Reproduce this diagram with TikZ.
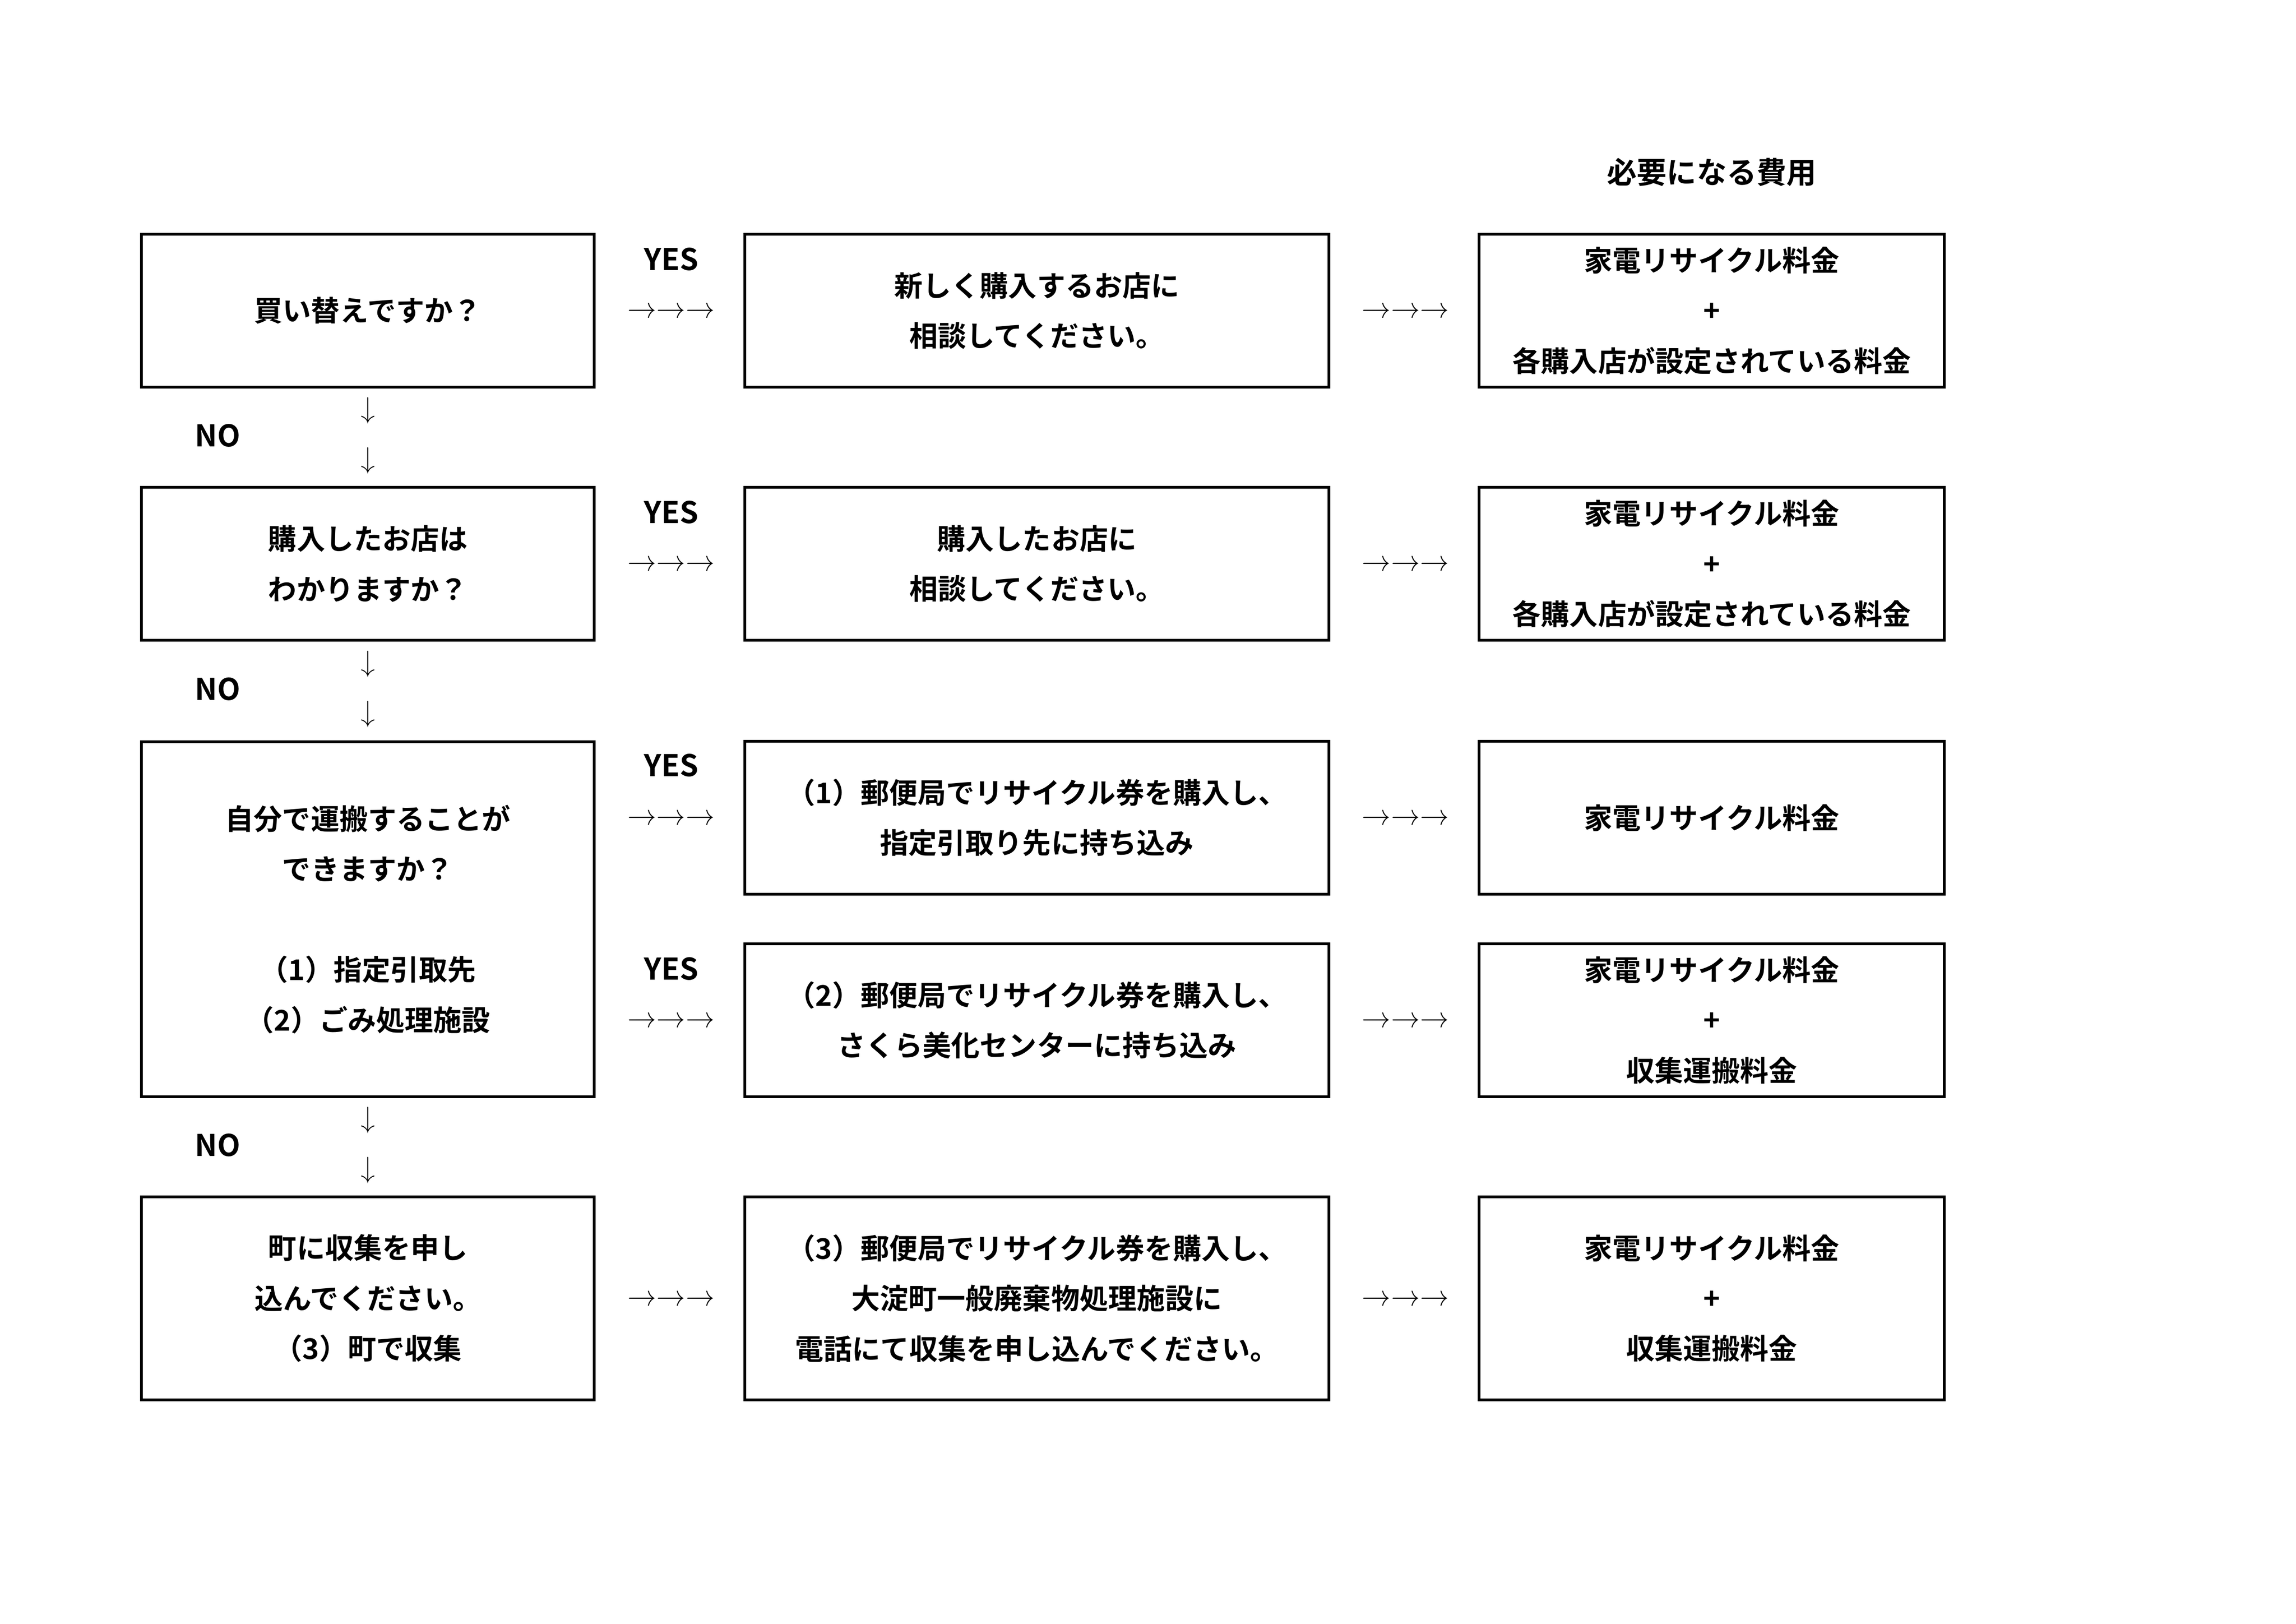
\documentclass[tikz,border=0pt]{standalone}
\usepackage{fontspec}
\newfontfamily\jpfont{Noto Sans CJK JP}[BoldFont={* Bold}]
\usetikzlibrary{positioning}
\begin{document}
\begin{tikzpicture}[x=0.01904cm, y=-0.01904cm,
        font=\jpfont\bfseries\fontsize{10.5}{18.5}\selectfont,
        box_style/.style={draw=black, line width=1pt, align=center, inner sep=0pt},
        left_box/.style={box_style, minimum width=308\pgflinewidth*0+5.86cm, minimum height=1.98cm},
        mid_box/.style={box_style, minimum width=7.56cm, minimum height=1.98cm},
        right_box/.style={box_style, minimum width=6.02cm, minimum height=1.98cm},
        label_style/.style={font=\jpfont\bfseries\fontsize{11}{13}\selectfont},
        arrow_style/.style={font=\fontsize{11}{13}\selectfont}]
        \useasboundingbox (0,0) rectangle (1560,1103);

        \node [label_style](head) at (1163,117) {必要になる費用};

        % row 1
        \node [left_box](q1) at (250,211) {買い替えですか？};
        \node [mid_box](a1) at (704.5,211) {新しく購入するお店に\\相談してください。};
        \node [right_box](c1) at (1163,211) {家電リサイクル料金\\+\\各購入店が設定されている料金};
        % row 2
        \node [left_box](q2) at (250,383) {購入したお店は\\わかりますか？};
        \node [mid_box](a2) at (704.5,383) {購入したお店に\\相談してください。};
        \node [right_box](c2) at (1163,383) {家電リサイクル料金\\+\\各購入店が設定されている料金};
        % row 3
        \node [left_box, minimum height=4.59cm](q3) at (250,624.5) {自分で運搬することが\\できますか？\\[18.5pt]（1）指定引取先\\（2）ごみ処理施設};
        \node [mid_box](a3) at (704.5,555.5) {（1）郵便局でリサイクル券を購入し、\\指定引取り先に持ち込み};
        \node [right_box](c3) at (1163,555.5) {家電リサイクル料金};
        \node [mid_box](a4) at (704.5,693) {（2）郵便局でリサイクル券を購入し、\\さくら美化センターに持ち込み};
        \node [right_box](c4) at (1163,693) {家電リサイクル料金\\+\\収集運搬料金};
        % row 4
        \node [left_box, minimum height=2.63cm](q4) at (250,882) {町に収集を申し\\込んでください。\\（3）町で収集};
        \node [mid_box, minimum height=2.63cm](a5) at (704.5,882) {（3）郵便局でリサイクル券を購入し、\\大淀町一般廃棄物処理施設に\\電話にて収集を申し込んでください。};
        \node [right_box, minimum height=2.63cm](c5) at (1163,882) {家電リサイクル料金\\+\\収集運搬料金};

        % horizontal arrows
        \foreach \y/\n in {211/1,383/2,555.5/3,693/4,882/5} {
            \node [arrow_style](ha\n) at (456,\y) {→→→};
            \node [arrow_style](hb\n) at (955,\y) {→→→};
        }
        \foreach \y/\n in {176/1,348/2,520/3,658/4}
            \node [label_style](yes\n) at (456,\y) {YES};

        % vertical arrows
        \foreach \y/\n in {296/1,468/2,778/3} {
            \node [label_style](no\n) at (148,\y) {NO};
            \node [arrow_style](da\n) at (250,\y-17) {↓};
            \node [arrow_style](db\n) at (250,\y+17) {↓};
        }
\end{tikzpicture}
\end{document}
